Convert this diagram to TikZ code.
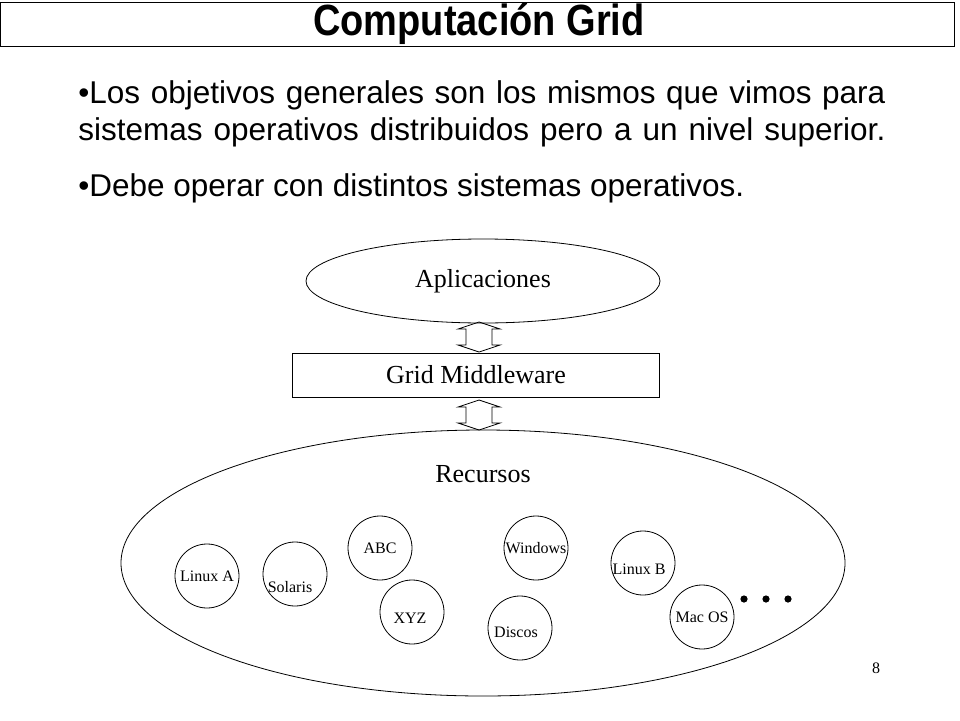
\documentclass[tikz,border=0pt]{standalone}
\usepackage{fontspec}
\setmainfont{Liberation Serif}
\newfontfamily\arialfont{Liberation Sans}
\usetikzlibrary{shapes.geometric}

\tikzset{
  res/.style={draw, circle, minimum size=64pt, inner sep=0pt, font=\fontsize{16}{17}\selectfont},
  reslabel/.style={font=\fontsize{16}{17}\selectfont},
  bodytext/.style={anchor=west, font=\arialfont\fontsize{31.5}{36}\selectfont},
  dblarrow/.style={draw, line width=0.8pt}
}

\begin{document}
\begin{tikzpicture}[x=1pt, y=-1pt, line width=0.8pt]
  \useasboundingbox (0,0) rectangle (960,720);

  % title bar
  \draw (0,2) rectangle (954,46);
  \node[font=\arialfont\bfseries\fontsize{38}{40}\selectfont, yscale=1.15] (title) at (479,24) {Computación Grid};

  % bullets
  \node[bodytext, inner sep=0pt] (b1a) at (78,95) {\makebox[807pt][s]{•Los objetivos generales son los mismos que vimos para}};
  \node[bodytext, inner sep=0pt] (b1b) at (78,132) {\makebox[807pt][s]{sistemas operativos distribuidos pero a un nivel superior.}};
  \node[bodytext, inner sep=0pt] (b2) at (78,188) {•Debe operar con distintos sistemas operativos.};

  % layers
  \node[draw, ellipse, minimum width=354pt, minimum height=84pt, font=\fontsize{26}{28}\selectfont] (apps) at (483,281) {Aplicaciones};
  \node[draw, minimum width=367pt, minimum height=44pt, font=\fontsize{26}{28}\selectfont] (mw) at (476,375) {Grid Middleware};
  \node[draw, ellipse, minimum width=724pt, minimum height=266pt] (recs) at (483,563) {};
  \node[font=\fontsize{26}{28}\selectfont] (rtitle) at (483,474) {Recursos};

  % double arrows between layers
  \foreach \yy in {322,400} {
    \draw[dblarrow] (479,\yy) -- (500,\yy+7) -- (492,\yy+7) -- (492,\yy+23) -- (500,\yy+23)
      -- (479,\yy+30) -- (458,\yy+23) -- (466,\yy+23) -- (466,\yy+7) -- (458,\yy+7) -- cycle;
  }

  % resources
  \node[res] (linuxa) at (207,576) {Linux A};
  \node[res] (solaris) at (295,574) {};
  \node[reslabel] (solarisl) at (290,587) {Solaris};
  \node[res] (abc) at (380,548) {ABC};
  \node[res] (xyz) at (412,612) {};
  \node[reslabel] (xyzl) at (410,618) {XYZ};
  \node[res] (windows) at (536,548) {Windows};
  \node[res] (discos) at (520,628) {};
  \node[reslabel] (discosl) at (516,632) {Discos};
  \node[res] (linuxb) at (643,563) {};
  \node[reslabel] (linuxbl) at (639,569) {Linux B};
  \node[res] (macos) at (702,617) {Mac OS};
  \foreach \xx in {744,766,788}
    \fill (\xx,599) circle (3.6pt);

  \node[reslabel] (page) at (876,668) {8};
\end{tikzpicture}
\end{document}
